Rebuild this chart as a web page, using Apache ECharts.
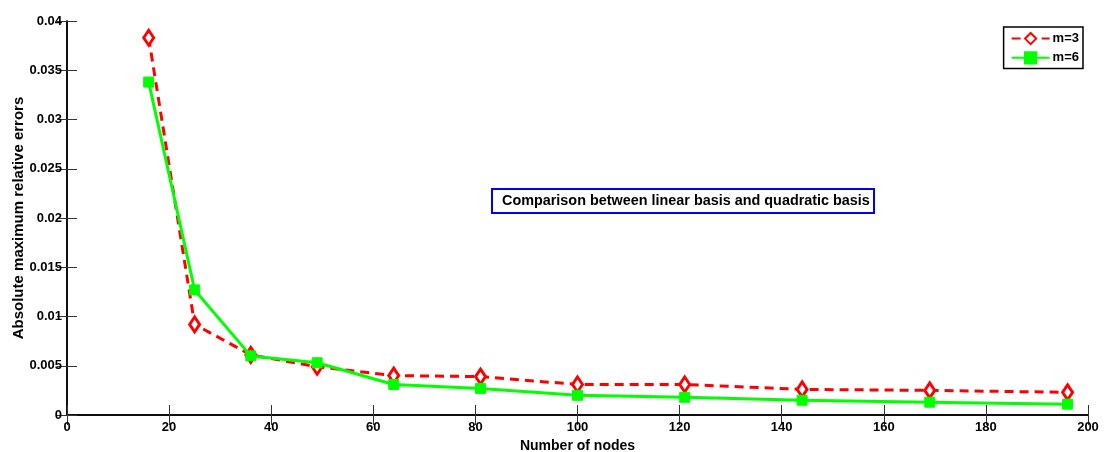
<!DOCTYPE html>
<html>
<head>
<meta charset="utf-8">
<script src="https://cdn.jsdelivr.net/npm/echarts@6/dist/echarts.min.js"></script>
<style>
  html, body { margin: 0; padding: 0; background: #fff; }
  #chart { width: 1106px; height: 452px; }
</style>
</head>
<body>
<div id="chart"></div>
<script>
// Number of nodes at each measurement
const nodes = [16, 25, 36, 49, 64, 81, 100, 121, 144, 169, 196];
// Absolute maximum relative errors
const errM3 = [0.0383, 0.0092, 0.0061, 0.0049, 0.0040, 0.0039, 0.0031, 0.0031, 0.0026, 0.0025, 0.0023];
const errM6 = [0.0338, 0.0127, 0.0060, 0.0053, 0.0031, 0.0027, 0.0020, 0.0018, 0.0015, 0.0013, 0.0011];
const yTickLabels = ['0', '0.005', '0.01', '0.015', '0.02', '0.025', '0.03', '0.035', '0.04'];

const font = 'Liberation Sans, Arial, sans-serif';
const pairs = (xs, ys) => xs.map((x, i) => [x, ys[i]]);

const chart = echarts.init(document.getElementById('chart'));
const frameLine = { show: true, lineStyle: { color: '#000', width: 1.5 } };
const innerTick = { show: true, inside: true, length: 10, lineStyle: { color: '#333', width: 1 } };

chart.setOption({
  animation: false,
  backgroundColor: '#fff',
  title: {
    text: 'Comparison between linear basis and quadratic basis',
    left: 492, top: 189,
    borderColor: '#0000ff', borderWidth: 2,
    padding: [5, 4, 5, 10],
    textStyle: { fontFamily: font, fontSize: 14.4, fontWeight: 'bold', color: '#000' }
  },
  legend: {
    right: 23, top: 27,
    orient: 'vertical',
    borderColor: '#000', borderWidth: 1.5,
    padding: [5, 4, 4, 7],
    itemGap: 6,
    itemWidth: 38, itemHeight: 14,
    textStyle: { fontFamily: font, fontSize: 13, fontWeight: 'bold', color: '#000', padding: [0, 0, 0, -2] },
    data: ['m=3', 'm=6']
  },
  grid: { left: 67, right: 18, top: 21, bottom: 37, containLabel: false, outerBoundsMode: 'none' },
  xAxis: [{
    type: 'value', min: 0, max: 200, interval: 20,
    name: 'Number of nodes', nameLocation: 'middle', nameGap: 24, nameMoveOverlap: false,
    nameTextStyle: { fontFamily: font, fontSize: 14, fontWeight: 'bold', color: '#000' },
    axisLine: frameLine, axisTick: innerTick, splitLine: { show: false },
    axisLabel: { fontFamily: font, fontSize: 13, fontWeight: 'bold', color: '#000', margin: 6 }
  }, {
    type: 'value', position: 'top', min: 0, max: 200, interval: 20,
    axisLine: frameLine, axisTick: innerTick, splitLine: { show: false },
    axisLabel: { show: false }
  }],
  yAxis: [{
    type: 'value', min: 0, max: 0.04, interval: 0.005,
    name: 'Absolute maximum relative errors', nameLocation: 'middle', nameGap: 41, nameMoveOverlap: false,
    nameTextStyle: { fontFamily: font, fontSize: 15, fontWeight: 'bold', color: '#000' },
    axisLine: frameLine, axisTick: innerTick, splitLine: { show: false },
    axisLabel: {
      fontFamily: font, fontSize: 13, fontWeight: 'bold', color: '#000', margin: 5,
      formatter: (v) => yTickLabels[Math.round(v / 0.005)]
    }
  }, {
    type: 'value', position: 'right', min: 0, max: 0.04, interval: 0.005,
    axisLine: frameLine, axisTick: innerTick, splitLine: { show: false },
    axisLabel: { show: false }
  }],
  series: [{
    name: 'm=3', type: 'line', data: pairs(nodes, errM3),
    symbol: 'diamond', symbolSize: [10, 15], showAllSymbol: true,
    lineStyle: { color: '#ff0000', width: 3, type: [9, 6] },
    itemStyle: { color: '#ffffff', borderColor: '#ff0000', borderWidth: 3 },
    z: 3
  }, {
    name: 'm=6', type: 'line', data: pairs(nodes, errM6),
    symbol: 'rect', symbolSize: 10, showAllSymbol: true,
    lineStyle: { color: '#00ff00', width: 3 },
    itemStyle: { color: '#00ff00', borderColor: '#00ff00', borderWidth: 1 },
    z: 4
  }]
});
</script>
</body>
</html>
